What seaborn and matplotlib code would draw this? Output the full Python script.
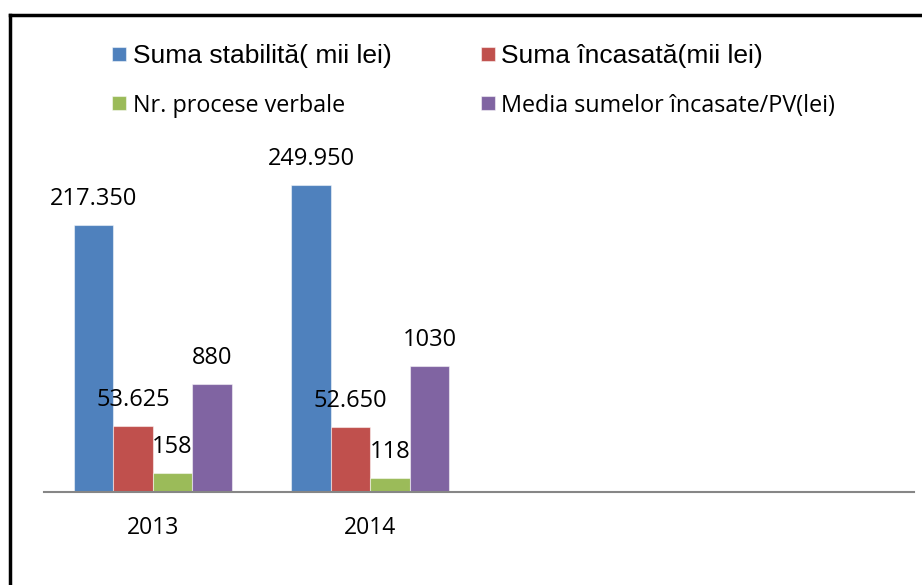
import matplotlib
matplotlib.use("Agg")
import matplotlib.pyplot as plt
import seaborn as sns
import pandas as pd
from matplotlib.lines import Line2D

# Date
ani = ["2013", "2014"]
indicatori = ["Suma stabilită( mii lei)", "Suma încasată(mii lei)",
              "Nr. procese verbale", "Media sumelor încasate/PV(lei)"]
# inaltimea barelor asa cum apar in grafic (axa verticala ascunsa)
suma_stabilita = [217.35, 249.95]
suma_incasata = [53.625, 52.65]
nr_procese = [15.8, 11.8]
media_pv = [88, 103]
# etichetele scrise deasupra barelor
et_stabilita = ["217.350", "249.950"]
et_incasata = ["53.625", "52.650"]
et_procese = ["158", "118"]
et_media = ["880", "1030"]
culori = ["#4F81BD", "#C0504D", "#9BBB59", "#8064A2"]

df = pd.DataFrame({
    "An": ani * 4,
    "Indicator": [i for i in indicatori for _ in ani],
    "Valoare": suma_stabilita + suma_incasata + nr_procese + media_pv,
})

sns.set_theme(style="white")
plt.rcParams["font.family"] = ["Open Sans", "DejaVu Sans"]
plt.rcParams["text.color"] = "black"

fig = plt.figure(figsize=(9.22, 5.85), dpi=100)
ax = fig.add_axes([44 / 922, 1 - 492 / 585, 870 / 922, 343.8 / 585])

sns.barplot(data=df, x="An", y="Valoare", hue="Indicator", hue_order=indicatori,
            order=ani, palette=culori, width=0.727, saturation=1,
            edgecolor=(1, 1, 1, 0.5), linewidth=0.8, ax=ax)
ax.set_xlim(-0.5, 3.5)
ax.set_ylim(0, 280)

# etichete
etichete = [et_stabilita, et_incasata, et_procese, et_media]
for cont, et in zip(ax.containers, etichete):
    ax.bar_label(cont, labels=et, padding=10, fontsize=17, color="black")

# axe
sns.despine(ax=ax, left=True)
ax.spines["bottom"].set_color("#868686")
ax.spines["bottom"].set_linewidth(1.5)
ax.set_yticks([])
ax.set_xlabel("")
ax.set_ylabel("")
ax.tick_params(axis="x", length=0, pad=17, labelsize=16.5, labelcolor="black")

# legenda
h, l = ax.get_legend_handles_labels()
ordine = [0, 2, 1, 3]
leg = ax.legend([h[i] for i in ordine], [l[i] for i in ordine], ncol=2, frameon=False,
                loc="upper left", bbox_to_anchor=(112 / 922, 1 - 44 / 585),
                bbox_transform=fig.transFigure,
                prop={"family": "Liberation Sans", "size": 19},
                handlelength=0.53, handleheight=0.44, handletextpad=0.26,
                columnspacing=3.37, labelspacing=1.0, borderpad=0, borderaxespad=0)
for t in leg.get_texts():
    t.set_color("black")
    if t.get_text() in (indicatori[2], indicatori[3]):
        t.set_fontfamily(["Open Sans", "DejaVu Sans"])
        t.set_fontsize(16.8)

# chenar
y_sus = 1 - 14.5 / 585
x_st = 10 / 922
fig.add_artist(Line2D([x_st, x_st], [0, y_sus], color="black", lw=2.5,
                      solid_capstyle="projecting", transform=fig.transFigure))
fig.add_artist(Line2D([x_st, 1], [y_sus, y_sus], color="black", lw=2.5,
                      solid_capstyle="projecting", transform=fig.transFigure))

fig.savefig("out.png", dpi=100)
